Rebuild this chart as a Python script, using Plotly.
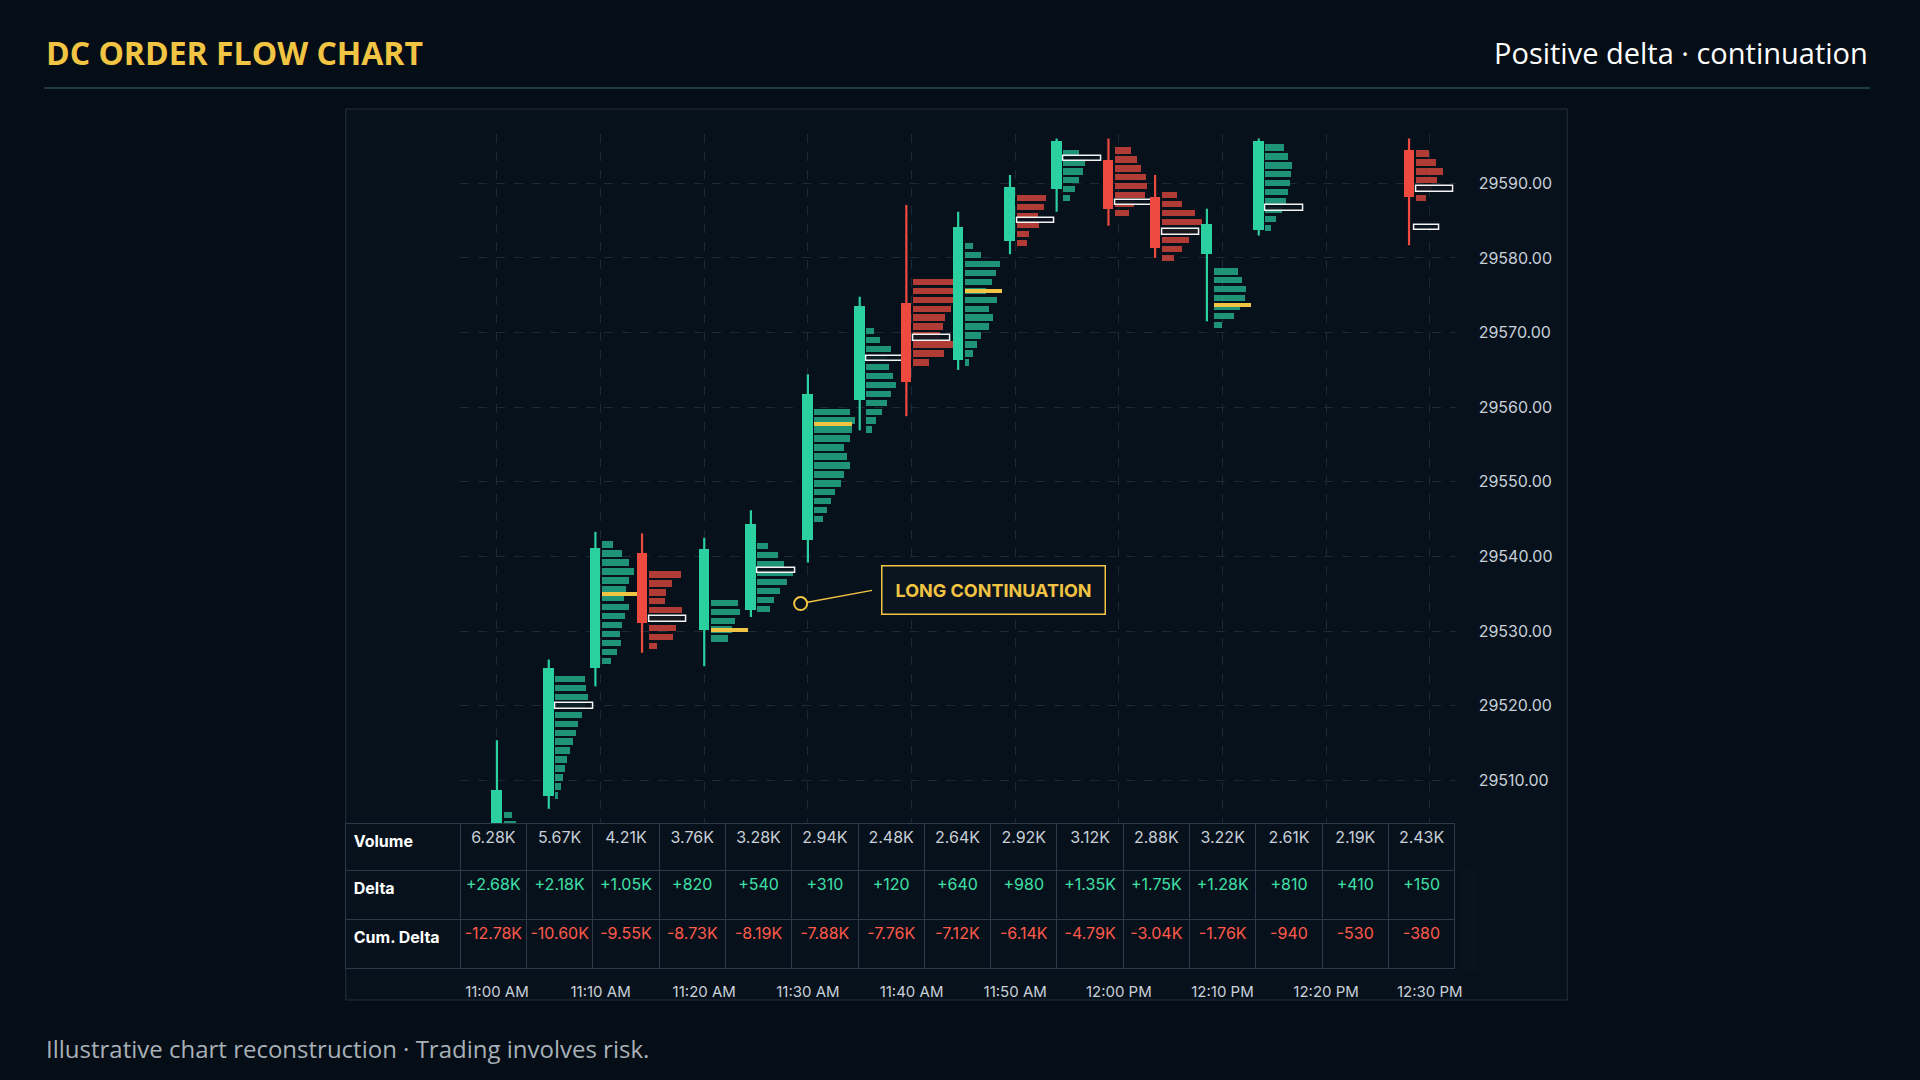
import plotly.graph_objects as go
from datetime import datetime, timedelta

# ---------------- data ----------------
times = ["11:00:00", "11:05:00", "11:09:30", "11:14:00", "11:20:00", "11:24:30", "11:30:00",
         "11:35:00", "11:39:30", "11:44:30", "11:49:30", "11:54:00", "11:59:00", "12:03:30",
         "12:08:30", "12:13:30", "12:28:00"]
opens  = [29503.0, 29507.9, 29525.0, 29540.5, 29530.2, 29532.9, 29542.2, 29561.0, 29574.0,
          29566.3, 29582.2, 29589.2, 29593.1, 29588.2, 29580.5, 29583.8, 29594.4]
highs  = [29515.4, 29526.2, 29543.3, 29543.1, 29542.5, 29546.2, 29564.4, 29574.8, 29587.1,
          29586.2, 29591.1, 29596.0, 29596.0, 29591.1, 29586.6, 29596.0, 29596.0]
lows   = [29501.0, 29506.2, 29522.6, 29527.1, 29525.3, 29531.9, 29539.2, 29556.9, 29558.8,
          29565.0, 29580.5, 29586.2, 29584.3, 29580.0, 29571.5, 29583.0, 29581.7]
closes = [29508.7, 29525.0, 29541.2, 29531.1, 29541.0, 29544.3, 29561.8, 29573.5, 29563.4,
          29584.1, 29589.5, 29595.7, 29586.6, 29581.3, 29584.6, 29595.7, 29588.2]

prof_lo = [29503.0, 29508.0, 29526.0, 29528.0, 29529.0, 29533.0, 29545.0, 29557.0, 29566.0,
           29566.0, 29582.0, 29588.0, 29586.0, 29580.0, 29571.0, 29584.0, 29588.0]
prof_vol = [
    [150, 90, 60],
    [20, 40, 60, 70, 90, 110, 130, 150, 170, 200, 220, 240, 230, 220],
    [70, 110, 140, 130, 150, 170, 200, 160, 180, 200, 240, 200, 150, 80],
    [60, 180, 200, 240, 250, 120, 130, 170, 240],
    [130, 160, 180, 220, 200],
    [90, 120, 170, 220, 260, 200, 150, 80],
    [60, 90, 120, 150, 200, 220, 260, 240, 220, 260, 280, 300, 260],
    [40, 70, 120, 150, 180, 220, 200, 170, 150, 180, 100, 60],
    [120, 230, 300, 200, 220, 240, 280, 300, 320, 300],
    [30, 60, 90, 120, 180, 210, 180, 240, 160, 200, 230, 260, 120, 60],
    [80, 90, 170, 160, 200, 220],
    [50, 90, 120, 150, 160, 120],
    [100, 140, 220, 240, 230, 190, 160, 120],
    [90, 150, 200, 280, 300, 250, 150, 110],
    [60, 150, 200, 230, 240, 210, 180],
    [40, 80, 120, 150, 170, 180, 190, 200, 170, 140],
    [80, 120, 160, 200, 150, 100],
]
prof_side = ["buy", "buy", "buy", "sell", "buy", "buy", "buy", "buy", "sell", "buy",
             "sell", "buy", "sell", "sell", "buy", "buy", "sell"]
poc_price = [None, 29520.0, 29535.0, 29531.6, 29530.2, 29538.1, 29557.7, 29566.5, 29569.3,
             29575.6, 29585.0, 29593.3, 29587.4, 29583.5, 29573.7, 29586.7, 29589.2]
poc_kind = [None, "white", "yellow", "white", "yellow", "white", "yellow", "white", "white",
            "yellow", "white", "white", "white", "white", "yellow", "white", "white"]

vol_labels = ["6.28K", "5.67K", "4.21K", "3.76K", "3.28K", "2.94K", "2.48K", "2.64K", "2.92K",
              "3.12K", "2.88K", "3.22K", "2.61K", "2.19K", "2.43K"]
delta_labels = ["+2.68K", "+2.18K", "+1.05K", "+820", "+540", "+310", "+120", "+640", "+980",
                "+1.35K", "+1.75K", "+1.28K", "+810", "+410", "+150"]
cum_labels = ["-12.78K", "-10.60K", "-9.55K", "-8.73K", "-8.19K", "-7.88K", "-7.76K", "-7.12K",
              "-6.14K", "-4.79K", "-3.04K", "-1.76K", "-940", "-530", "-380"]
tick_times = ["11:00", "11:10", "11:20", "11:30", "11:40", "11:50", "12:00", "12:10", "12:20", "12:30"]
tick_labels = ["11:00 AM", "11:10 AM", "11:20 AM", "11:30 AM", "11:40 AM", "11:50 AM",
               "12:00 PM", "12:10 PM", "12:20 PM", "12:30 PM"]
y_ticks = [29510, 29520, 29530, 29540, 29550, 29560, 29570, 29580, 29590]

# ---------------- styles ----------------
BG = "#050d16"
PANEL = "#07111b"
GREEN = "#2bd0a0"
RED = "#ef4a3f"
PGREEN = "rgba(38,180,140,0.80)"
PRED = "rgba(214,70,60,0.82)"
GOLD = "#f2c443"
DAY = "2024-01-02 "

def t(s):
    return datetime.strptime(DAY + s, "%Y-%m-%d %H:%M:%S")

MIN = 60000  # ms
xs = [t(s) for s in times]

fig = go.Figure()

# profiles
for i, x in enumerate(xs):
    base = x + timedelta(seconds=40)
    levels = [prof_lo[i] + 1.2 * k for k in range(len(prof_vol[i]))]
    fig.add_trace(go.Bar(
        orientation="h", y=levels, x=[v * 0.013 * MIN for v in prof_vol[i]],
        base=[base] * len(levels), width=0.85,
        marker=dict(color=PGREEN if prof_side[i] == "buy" else PRED, line=dict(width=0)),
        showlegend=False, hoverinfo="skip"))

# POC markers
for kind in ["yellow", "white"]:
    py = [poc_price[i] for i in range(len(xs)) if poc_kind[i] == kind]
    pb = [xs[i] + timedelta(seconds=40) for i in range(len(xs)) if poc_kind[i] == kind]
    fig.add_trace(go.Bar(
        orientation="h", y=py, x=[3.6 * MIN] * len(py), base=pb,
        width=0.55 if kind == "yellow" else 0.75,
        marker=dict(color=GOLD if kind == "yellow" else "rgba(10,20,30,0.9)",
                    line=dict(color="#f4f4f4", width=0 if kind == "yellow" else 1.5)),
        showlegend=False, hoverinfo="skip"))
fig.add_trace(go.Bar(orientation="h", y=[29584.1], x=[2.4 * MIN], base=[xs[-1] + timedelta(seconds=30)],
                     width=0.75, marker=dict(color="rgba(10,20,30,0.9)", line=dict(color="#f4f4f4", width=1.5)),
                     showlegend=False, hoverinfo="skip"))

# wicks
for up in [True, False]:
    wx, wy = [], []
    for i, x in enumerate(xs):
        if (closes[i] >= opens[i]) == up:
            wx += [x, x, None]
            wy += [lows[i], highs[i], None]
    fig.add_trace(go.Scatter(x=wx, y=wy, mode="lines", line=dict(color=GREEN if up else RED, width=2.2),
                             showlegend=False, hoverinfo="skip"))
# bodies
for up in [True, False]:
    idx = [i for i in range(len(xs)) if (closes[i] >= opens[i]) == up]
    fig.add_trace(go.Bar(x=[xs[i] for i in idx], base=[min(opens[i], closes[i]) for i in idx],
                         y=[abs(closes[i] - opens[i]) for i in idx], width=1.0 * MIN,
                         marker=dict(color=GREEN if up else RED, line=dict(width=0)),
                         showlegend=False, hoverinfo="skip"))

# callout
fig.add_trace(go.Scatter(x=[t("11:29:18")], y=[29533.7], mode="markers",
                         marker=dict(symbol="circle-open", size=13, color=GOLD, line=dict(width=2)),
                         showlegend=False, hoverinfo="skip"))
fig.add_annotation(x=t("11:29:18"), y=29533.7, ax=t("11:36:20"), ay=29535.5, axref="x", ayref="y",
                   showarrow=True, arrowhead=0, arrowwidth=1.5, arrowcolor=GOLD, text="", standoff=7)
fig.add_annotation(x=t("11:47:55"), y=29535.5, text="<b>LONG CONTINUATION</b>", showarrow=False,
                   font=dict(color=GOLD, size=18, family="Inter"), bgcolor="#0b1520",
                   bordercolor=GOLD, borderwidth=1.5, borderpad=13)

# table: Volume row as header, Delta / Cum. Delta as cells
header_vals = ["<b>Volume</b>"] + vol_labels
cell_vals = [["<b>Delta</b>", "<b>Cum. Delta</b>"]] + [[delta_labels[j], cum_labels[j]] for j in range(15)]
fig.add_trace(go.Table(
    domain=dict(x=[347 / 1920, 1461 / 1920], y=[0.10, 1 - 823 / 1080]),
    columnwidth=[115] + [66.6] * 15,
    header=dict(values=header_vals, height=47, align=["left"] + ["center"] * 15,
                fill=dict(color=PANEL), line=dict(color="#2a3a4a", width=1),
                font=dict(family="Inter", size=16, color=["#ffffff"] + ["#c8d0d8"] * 15)),
    cells=dict(values=cell_vals, height=49, align=["left"] + ["center"] * 15,
               fill=dict(color=PANEL), line=dict(color="#2a3a4a", width=1),
               font=dict(family="Inter", size=16,
                         color=[["#ffffff"] * 2] + [["#3ee0a8", "#ff5a4a"]] * 15))))

fig.update_layout(
    width=1920, height=1080, paper_bgcolor=BG, plot_bgcolor=PANEL, barmode="overlay",
    margin=dict(l=0, r=0, t=0, b=0), showlegend=False, bargap=0,
    font=dict(family="Inter", color="#c8d0d8"),
    xaxis=dict(domain=[462 / 1920, 1461 / 1920], type="date",
               range=[t("10:56:28"), t("12:32:30")],
               tickvals=[t(s + ":00") for s in tick_times], ticktext=tick_labels,
               ticklabelstandoff=158, tickfont=dict(size=15, color="#c8d0d8"),
               showgrid=True, gridcolor="#1c2a36", griddash="dash", zeroline=False, showline=False),
    yaxis=dict(domain=[1 - 823 / 1080, 1 - 134 / 1080], range=[29504.3, 29596.6], side="right",
               tickvals=y_ticks, ticktext=[f"{v:.2f}" for v in y_ticks], ticklabelstandoff=22,
               tickfont=dict(size=16, color="#c8d0d8"),
               showgrid=True, gridcolor="#1c2a36", griddash="dash", zeroline=False, showline=False),
)

fig.add_shape(type="rect", xref="paper", yref="paper", x0=347 / 1920, x1=1573 / 1920,
              y0=1 - 1000 / 1080, y1=1 - 109 / 1080, line=dict(color="#22303d", width=1),
              fillcolor=PANEL, layer="below")
fig.add_shape(type="line", xref="paper", yref="paper", x0=44 / 1920, x1=1877 / 1920,
              y0=1 - 88 / 1080, y1=1 - 88 / 1080, line=dict(color="#2a4a55", width=1.5))
fig.add_annotation(xref="paper", yref="paper", x=44 / 1920, y=1 - 52 / 1080, xanchor="left", yanchor="middle",
                   text="<b>DC ORDER FLOW CHART</b>", showarrow=False,
                   font=dict(color=GOLD, size=32, family="Open Sans"))
fig.add_annotation(xref="paper", yref="paper", x=1877 / 1920, y=1 - 52 / 1080, xanchor="right", yanchor="middle",
                   text="Positive delta · continuation", showarrow=False,
                   font=dict(color="#ffffff", size=29, family="Open Sans"))
fig.add_annotation(xref="paper", yref="paper", x=44 / 1920, y=1 - 1048 / 1080, xanchor="left", yanchor="middle",
                   text="Illustrative chart reconstruction · Trading involves risk.", showarrow=False,
                   font=dict(color="#a8b0b8", size=24, family="Open Sans"))

fig.write_html("out.html", config={"displayModeBar": False},
               post_script="document.body.style.margin='0';document.body.style.background='#050d16';")
